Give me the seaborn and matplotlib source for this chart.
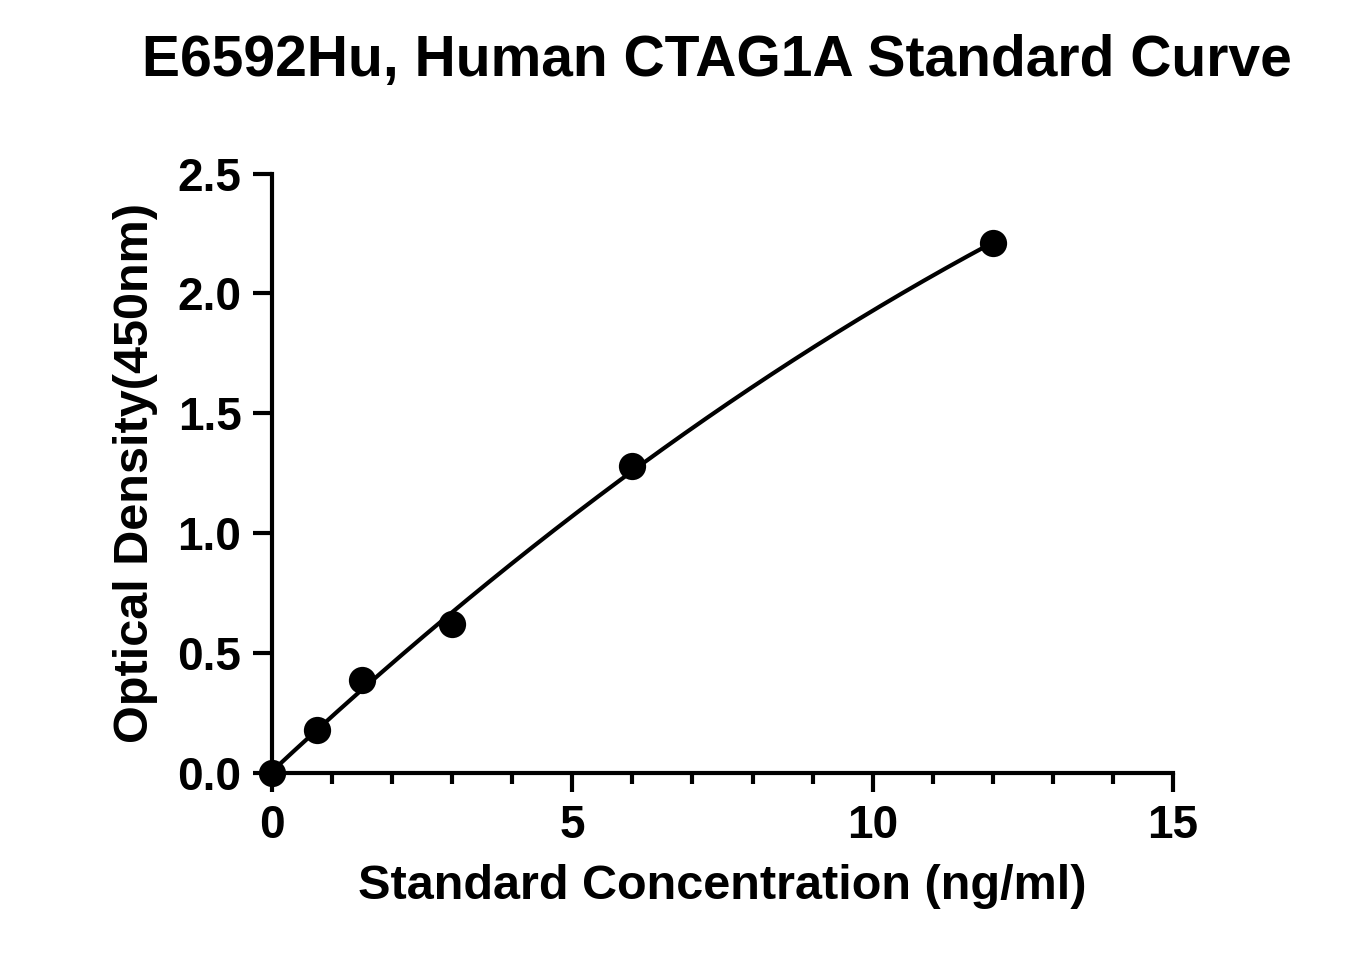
import numpy as np
import matplotlib
matplotlib.use("Agg")
import matplotlib.pyplot as plt
import seaborn as sns
from matplotlib.ticker import MultipleLocator

conc = [0, 0.75, 1.5, 3, 6, 12]
od = [0.0, 0.18, 0.39, 0.62, 1.28, 2.21]

sns.set_style("ticks")
plt.rcParams['font.family'] = ['Liberation Sans', 'DejaVu Sans']
plt.rcParams['font.weight'] = 'bold'
plt.rcParams['text.color'] = 'black'
plt.rcParams['axes.labelcolor'] = 'black'
plt.rcParams['xtick.color'] = 'black'
plt.rcParams['ytick.color'] = 'black'

fig = plt.figure(figsize=(13.53, 9.75), dpi=100)
ax = fig.add_axes([0.201, 0.207, 0.666, 0.615])

coef = np.polyfit(conc, od, 2)
xs = np.linspace(0, 12, 200)
sns.lineplot(x=xs, y=np.polyval(coef, xs), color='black', lw=3, ax=ax)
sns.scatterplot(x=conc, y=od, color='black', s=330, edgecolor='black', zorder=5, ax=ax, clip_on=False)

ax.set_xlim(0, 15)
ax.set_ylim(0, 2.5)
ax.xaxis.set_major_locator(MultipleLocator(5))
ax.xaxis.set_minor_locator(MultipleLocator(1))
ax.yaxis.set_major_locator(MultipleLocator(0.5))
ax.yaxis.set_major_formatter(matplotlib.ticker.FormatStrFormatter('%.1f'))
sns.despine(ax=ax)
for s in ['left', 'bottom']:
    ax.spines[s].set_linewidth(3)
    ax.spines[s].set_color('black')
ax.tick_params(which='major', width=3, length=14, labelsize=33, pad=8)
ax.tick_params(which='minor', width=3, length=8)
for lab in ax.get_xticklabels() + ax.get_yticklabels():
    lab.set_fontweight('bold')

ax.set_xlabel('Standard Concentration (ng/ml)', fontsize=35, fontweight='bold', labelpad=12)
ax.set_ylabel('Optical Density(450nm)', fontsize=35, fontweight='bold', labelpad=14)
fig.suptitle('E6592Hu, Human CTAG1A Standard Curve', fontsize=41, fontweight='bold', x=0.53, y=0.965)

fig.savefig('out.png', dpi=100)
